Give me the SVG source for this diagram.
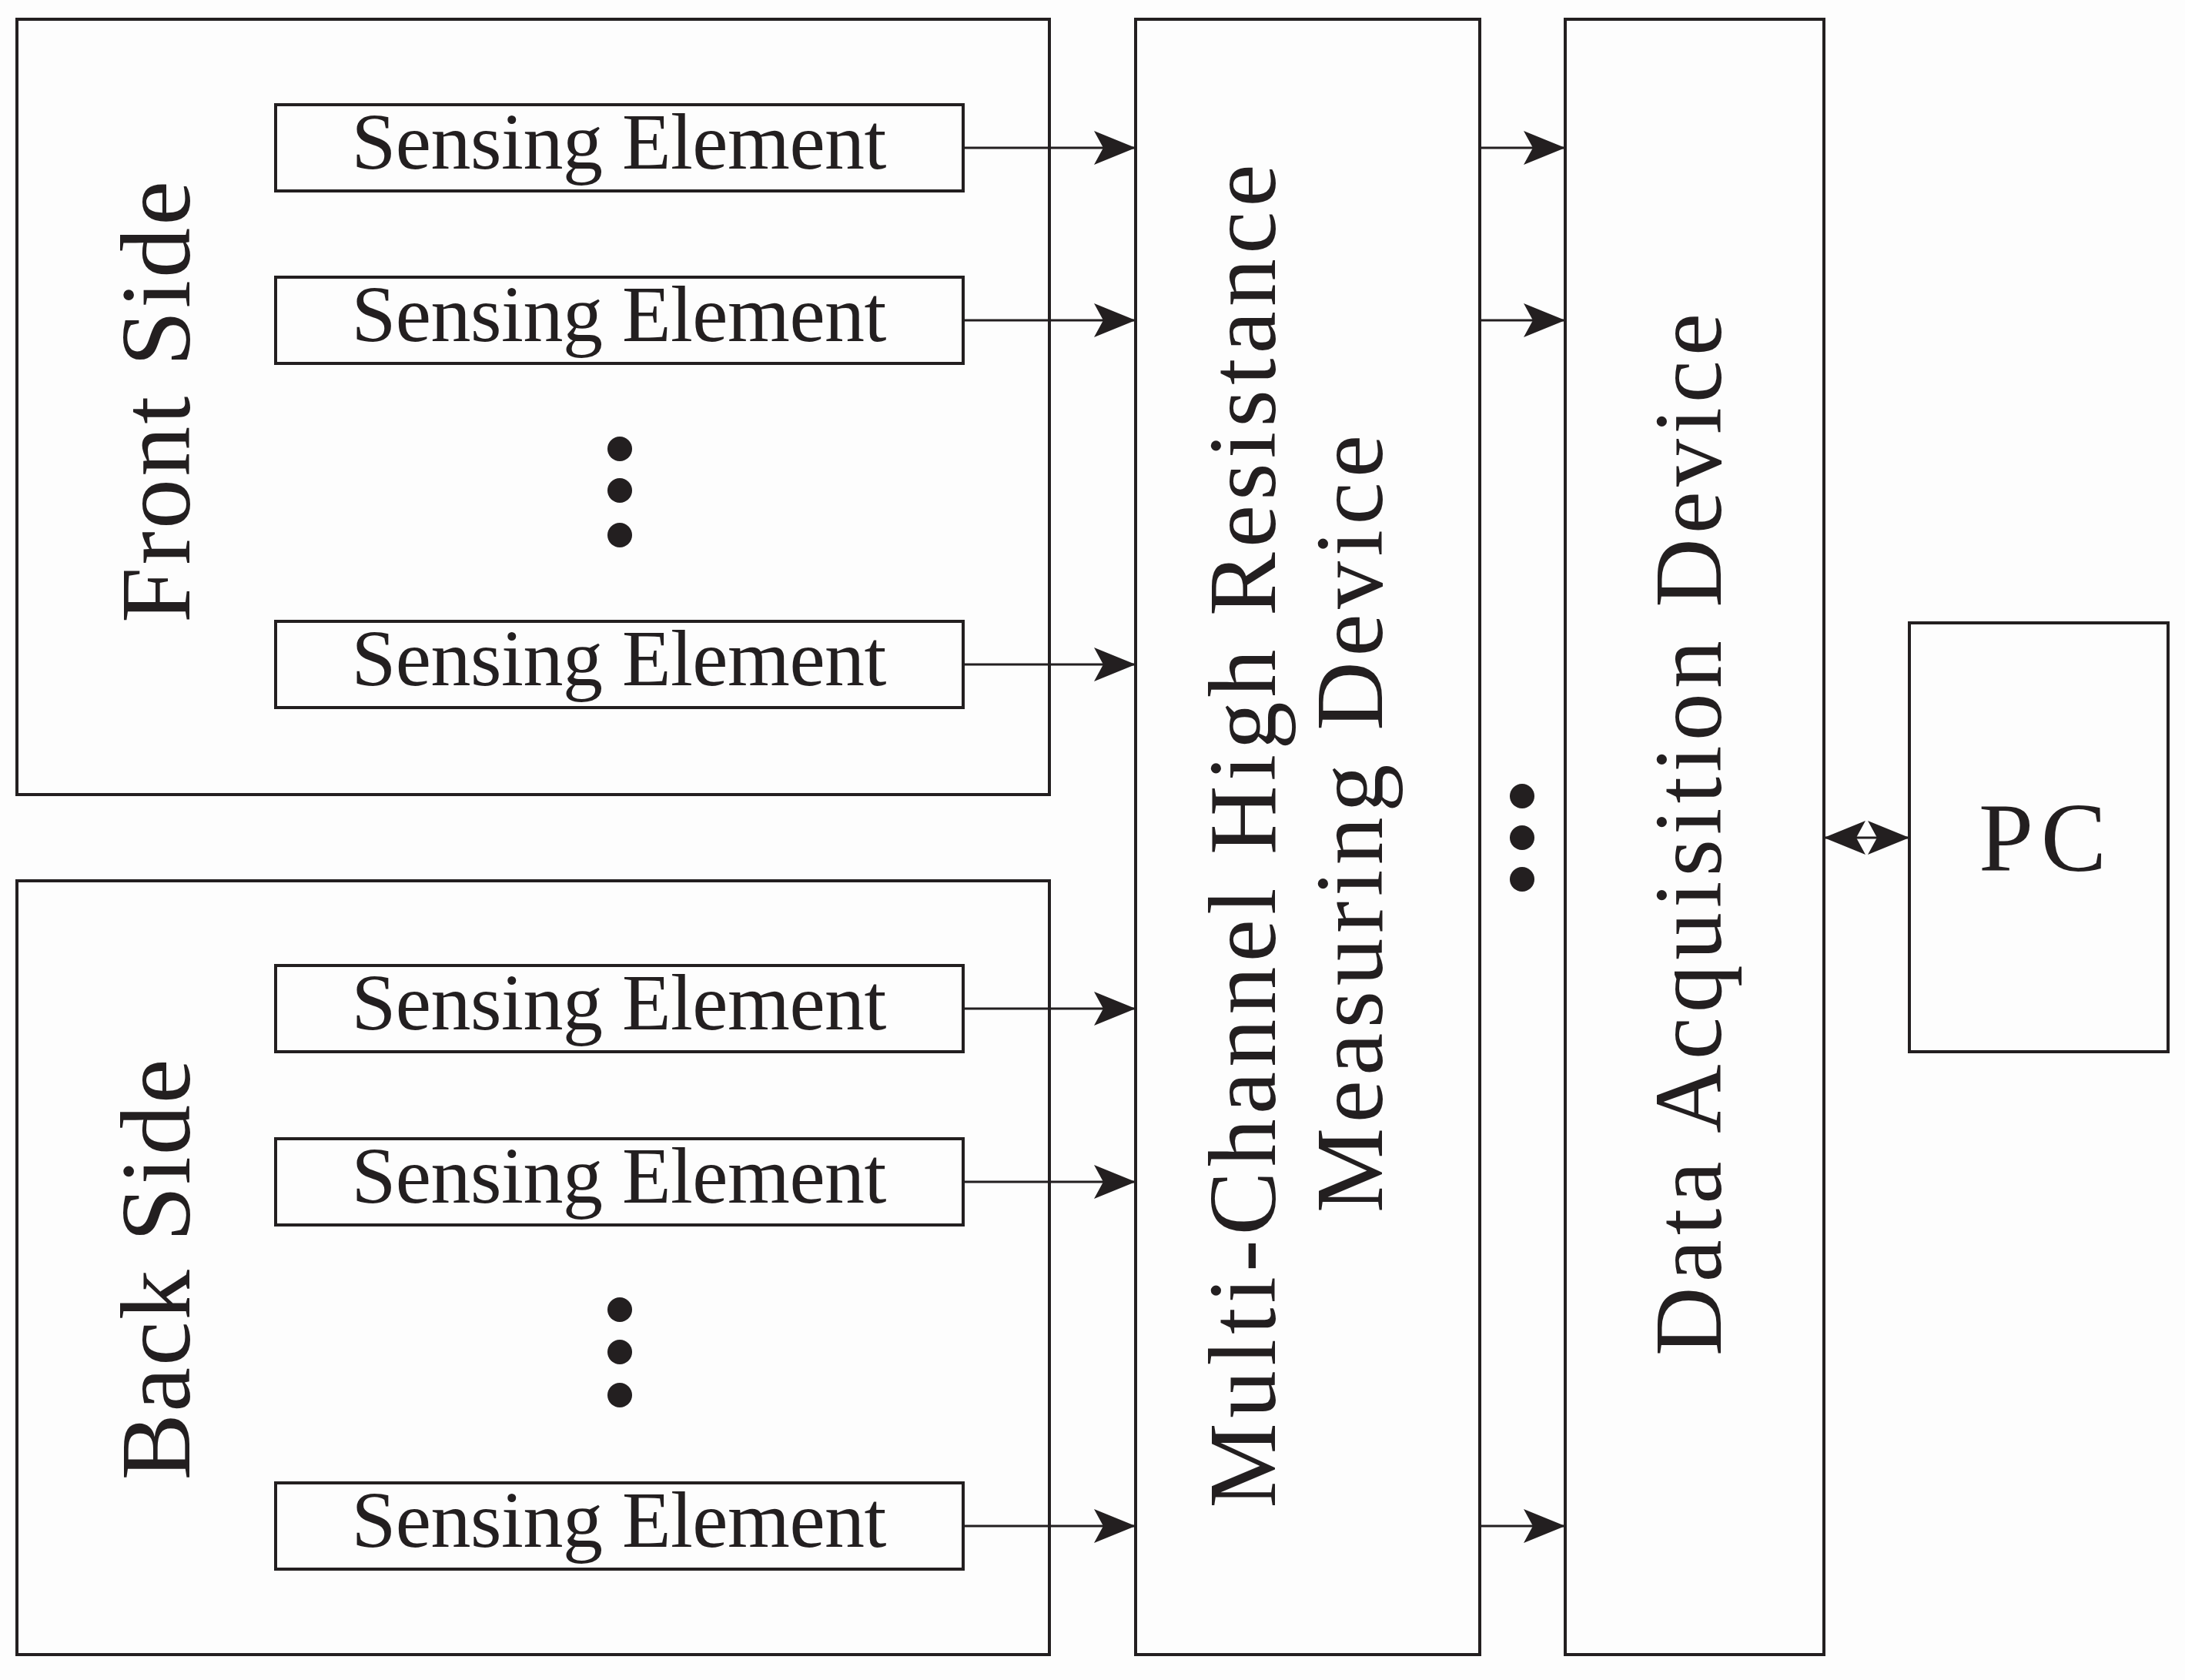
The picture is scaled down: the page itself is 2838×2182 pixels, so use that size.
<svg xmlns="http://www.w3.org/2000/svg" width="2838" height="2182" viewBox="0 0 2838 2182">
<style>
.b{fill:none;stroke:#231f20;stroke-width:4}
.t{font-family:"Liberation Serif","Times New Roman",serif;fill:#231f20}
.se{font-size:104px;text-anchor:middle}
.c{stroke:#231f20;stroke-width:3;fill:none;marker-end:url(#ah)}
.d{fill:#231f20}
</style>
<defs>
<marker id="ah" markerUnits="userSpaceOnUse" markerWidth="56" markerHeight="50" refX="54" refY="25" orient="auto-start-reverse">
<path d="M0,3 L54,25 L0,47 L12,25 Z" fill="#231f20"/>
</marker>
</defs>
<rect width="2838" height="2182" fill="#fdfdfd"/>
<g id="front"><rect class="b" x="22" y="25" width="1341" height="1007"/>
<text class="t" font-size="130" text-anchor="middle" transform="translate(246,522) rotate(-90)" textLength="574">Front Side</text>
<circle class="d" cx="805" cy="583" r="16"/><circle class="d" cx="805" cy="637" r="16"/><circle class="d" cx="805" cy="695" r="16"/></g>
<g id="back"><rect class="b" x="22" y="1144" width="1341" height="1005"/>
<text class="t" font-size="130" text-anchor="middle" transform="translate(246,1649) rotate(-90)" textLength="547">Back Side</text>
<circle class="d" cx="805" cy="1701" r="16"/><circle class="d" cx="805" cy="1756" r="16"/><circle class="d" cx="805" cy="1812" r="16"/></g>
<g id="se1"><rect class="b" x="358" y="136" width="893" height="112"/><text class="t se" x="804" y="219" textLength="695">Sensing Element</text></g>
<g id="se2"><rect class="b" x="358" y="360" width="893" height="112"/><text class="t se" x="804" y="443" textLength="695">Sensing Element</text></g>
<g id="se3"><rect class="b" x="358" y="807" width="893" height="112"/><text class="t se" x="804" y="890" textLength="695">Sensing Element</text></g>
<g id="se4"><rect class="b" x="358" y="1254" width="893" height="112"/><text class="t se" x="804" y="1337" textLength="695">Sensing Element</text></g>
<g id="se5"><rect class="b" x="358" y="1479" width="893" height="112"/><text class="t se" x="804" y="1562" textLength="695">Sensing Element</text></g>
<g id="se6"><rect class="b" x="358" y="1926" width="893" height="112"/><text class="t se" x="804" y="2009" textLength="695">Sensing Element</text></g>
<g id="mc"><rect class="b" x="1475" y="25" width="447" height="2124"/>
<text class="t" font-size="124" text-anchor="middle" transform="translate(1656,1086) rotate(-90)" textLength="1745">Multi-Channel High Resistance</text>
<text class="t" font-size="124" text-anchor="middle" transform="translate(1795,1070) rotate(-90)" textLength="1010">Measuring Device</text></g>
<g id="da"><rect class="b" x="2033" y="25" width="336" height="2124"/>
<text class="t" font-size="124" text-anchor="middle" transform="translate(2235,1084) rotate(-90)" textLength="1354">Data Acquisition Device</text></g>
<g id="pc"><rect class="b" x="2480" y="809" width="336" height="557"/>
<text class="t" font-size="128" text-anchor="middle" x="2653" y="1131" textLength="166">PC</text></g>
<g id="connectors">
<line class="c" x1="1251" y1="192" x2="1475" y2="192"/>
<line class="c" x1="1251" y1="416" x2="1475" y2="416"/>
<line class="c" x1="1251" y1="863" x2="1475" y2="863"/>
<line class="c" x1="1251" y1="1310" x2="1475" y2="1310"/>
<line class="c" x1="1251" y1="1535" x2="1475" y2="1535"/>
<line class="c" x1="1251" y1="1982" x2="1475" y2="1982"/>
<line class="c" x1="1922" y1="192" x2="2033" y2="192"/>
<line class="c" x1="1922" y1="416" x2="2033" y2="416"/>
<line class="c" x1="1922" y1="1982" x2="2033" y2="1982"/>
<line class="c" x1="2369" y1="1088" x2="2480" y2="1088" marker-start="url(#ah)"/>
<circle class="d" cx="1977" cy="1034" r="16"/><circle class="d" cx="1977" cy="1088" r="16"/><circle class="d" cx="1977" cy="1142" r="16"/>
</g>
</svg>
